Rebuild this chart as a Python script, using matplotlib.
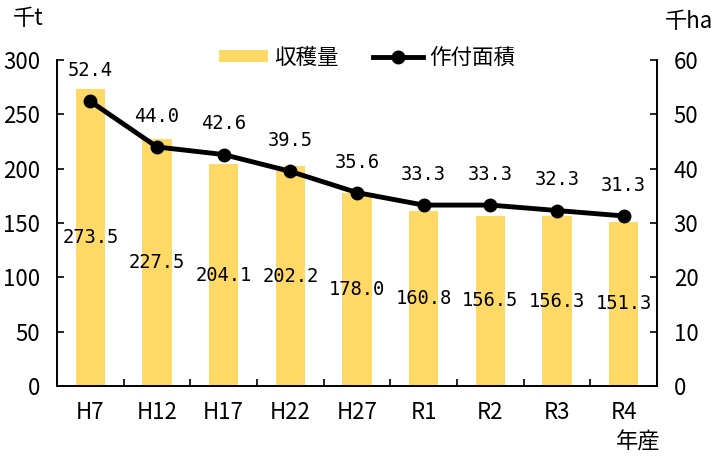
import numpy as np
import matplotlib.pyplot as plt
from matplotlib.ticker import FixedLocator

plt.rcParams['font.family'] = ['Liberation Sans Narrow', 'Noto Sans CJK JP', 'DejaVu Sans']

years = ['H7', 'H12', 'H17', 'H22', 'H27', 'R1', 'R2', 'R3', 'R4']
harvest = [273.5, 227.5, 204.1, 202.2, 178.0, 160.8, 156.5, 156.3, 151.3]
area = [52.4, 44.0, 42.6, 39.5, 35.6, 33.3, 33.3, 32.3, 31.3]

x = np.arange(len(years))
lab_font = ['DejaVu Sans Mono', 'Noto Sans CJK JP']
cjk_font = ['Noto Sans CJK JP', 'DejaVu Sans']

fig = plt.figure(figsize=(7.14, 4.62), dpi=100)
ax = fig.add_axes([0.0798, 0.1645, 0.8403, 0.7056])
ax2 = ax.twinx()

bars = ax.bar(x, harvest, width=0.44, color='#FFD966', label='収穫量', zorder=1)
ax.set_xlim(-0.5, len(years) - 0.5)
ax.set_ylim(0, 300)
ax.set_yticks(range(0, 301, 50))
ax.set_xticks(x)
ax.set_xticklabels(years)
ax.xaxis.set_minor_locator(FixedLocator(np.arange(-0.5, len(years), 1.0)))
ax.tick_params(axis='x', which='major', length=0, labelsize=16, pad=11)
ax.tick_params(axis='x', which='minor', length=5, direction='in', width=1.2)
ax.tick_params(axis='y', length=5, direction='in', width=1.2, labelsize=16, pad=12)

for xi, v in zip(x, harvest):
    ax.text(xi, v / 2, f'{v:.1f}', ha='center', va='center', fontsize=13.5,
            family=lab_font, zorder=5)

line, = ax2.plot(x, area, color='black', lw=3.5, marker='o', markersize=9,
                 label='作付面積', zorder=3)
ax2.set_ylim(0, 60)
ax2.set_yticks(range(0, 61, 10))
ax2.tick_params(axis='y', length=5, direction='in', width=1.2, labelsize=16, pad=12)
for xi, v in zip(x, area):
    ax2.annotate(f'{v:.1f}', (xi, v), xytext=(0, 22), textcoords='offset points',
                 ha='center', va='center', fontsize=13.5, family=lab_font)

for a in (ax, ax2):
    a.spines['top'].set_visible(False)
    for s in ('left', 'right', 'bottom'):
        a.spines[s].set_linewidth(1.2)

ax.text(-0.073, 1.126, '千t', transform=ax.transAxes, fontsize=16, ha='left',
        va='center', family=cjk_font)
ax.text(1.013, 1.117, '千ha', transform=ax.transAxes, fontsize=16, ha='left',
        va='center', family=cjk_font)
ax.text(0.968, -0.172, '年産', transform=ax.transAxes, fontsize=16, ha='center',
        va='center', family=cjk_font)

fig.legend([bars, line], ['収穫量', '作付面積'], loc='center', bbox_to_anchor=(0.514, 0.875),
           ncol=2, frameon=False, prop={'family': cjk_font, 'size': 15.5},
           handlelength=2.3, handleheight=0.5, columnspacing=1.6, handletextpad=0.3)

fig.savefig('out.png', dpi=100)
